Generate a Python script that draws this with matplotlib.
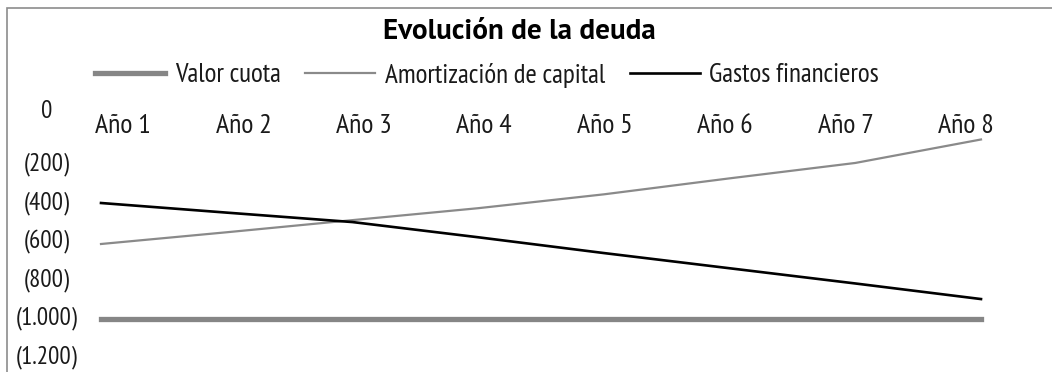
import numpy as np
import matplotlib
matplotlib.use("Agg")
import matplotlib.pyplot as plt
from matplotlib.patches import Rectangle
from matplotlib.transforms import blended_transform_factory, ScaledTranslation

# ---- data ----
categories = ["Año 1", "Año 2", "Año 3", "Año 4", "Año 5", "Año 6", "Año 7", "Año 8"]
valor_cuota = [-1000, -1000, -1000, -1000, -1000, -1000, -1000, -1000]
amortizacion = [-613, -552, -489, -427, -355, -272, -192, -70]
gastos = [-400, -450, -499, -578, -660, -739, -818, -899]
y_ticks = [0, -200, -400, -600, -800, -1000, -1200]
y_tick_labels = ["0", "(200)", "(400)", "(600)", "(800)", "(1.000)", "(1.200)"]
title = "Evolución de la deuda"

FONT = ["PT Sans Narrow", "DejaVu Sans"]
FS_X = 20
FS_Y = 18
FS_LEG = 19.5

W, H = 1052, 372
fig = plt.figure(figsize=(W / 100, H / 100), dpi=100)
fig.patch.set_facecolor("white")

# axes placement in pixels
x0, x1 = 101, 981
ytop, ybot = 126, 357
ax = fig.add_axes([x0 / W, 1 - ybot / H, (x1 - x0) / W, (ybot - ytop) / H])
ax.set_xlim(0, len(categories) - 1)
ax.set_ylim(-1200, 0)
for s in ax.spines.values():
    s.set_visible(False)
ax.set_xticks([])
ax.set_yticks([])
ax.patch.set_alpha(0)

x = np.arange(len(categories))
l1, = ax.plot(x, valor_cuota, color="#868686", lw=3.8, solid_capstyle="projecting",
              clip_on=False, label="Valor cuota")
l2, = ax.plot(x, amortizacion, color="#8a8a8a", lw=1.6, clip_on=False,
              label="Amortización de capital")
l3, = ax.plot(x, gastos, color="black", lw=1.9, clip_on=False,
              label="Gastos financieros")

# category labels sit on the zero line
lbl_pos = 0.175 + np.arange(len(categories)) * 0.958
for p, c in zip(lbl_pos, categories):
    ax.text(p, 0, c, ha="center", va="center", fontsize=FS_X, family=FONT,
            color="#1a1a1a", clip_on=False)

# y labels, centered in a column left of the plot
ytr = blended_transform_factory(fig.transFigure, ax.transData)
for v, t in zip(y_ticks, y_tick_labels):
    tr = ytr
    if v == 0:
        tr = ytr + ScaledTranslation(0, 15 / 100, fig.dpi_scale_trans)
    ax.text(47 / W, v, t, ha="center", va="center", fontsize=FS_Y, family=FONT,
            color="#1a1a1a", transform=tr, clip_on=False)

fig.text(519 / W, 1 - 32 / H, title, ha="center", va="center", fontsize=21,
         fontweight="bold", family=["PT Sans", "DejaVu Sans"], color="black")

leg = fig.legend(handles=[l1, l2, l3], loc="center", bbox_to_anchor=(487 / W, 1 - 75 / H),
                 ncol=3, frameon=False, prop={"family": FONT, "size": FS_LEG},
                 handlelength=2.6, handletextpad=0.35, columnspacing=0.9)
for t in leg.get_texts():
    t.set_color("#1a1a1a")

fig.patches.append(Rectangle((7 / W, -0.2), 2, 1.2 - 8 / H, transform=fig.transFigure,
                             fill=False, edgecolor="#8c8c8c", lw=1.2))

fig.savefig("out.png", dpi=100)
